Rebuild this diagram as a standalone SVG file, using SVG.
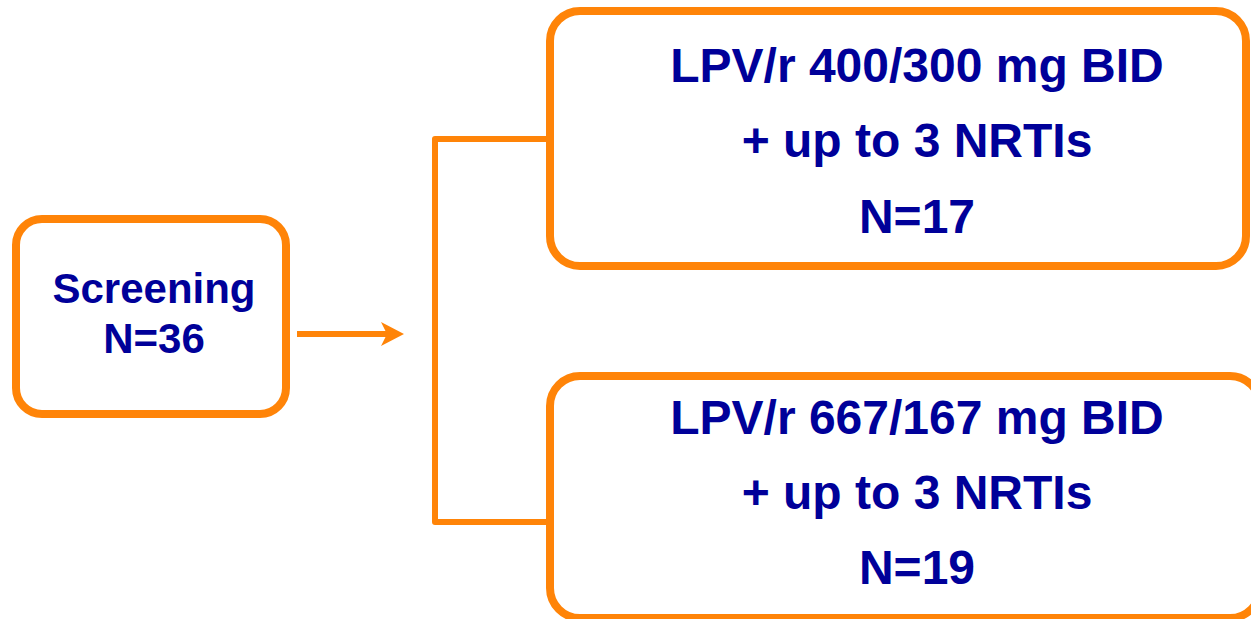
<svg xmlns="http://www.w3.org/2000/svg" width="1251" height="619" viewBox="0 0 1251 619">
  <defs>
    <style>
      .box { fill: #ffffff; stroke: #ff8408; stroke-width: 8; }
      .wire { fill: none; stroke: #ff8408; stroke-width: 6; stroke-linejoin: round; stroke-linecap: butt; }
      .label { font-family: "Liberation Sans", Arial, sans-serif; font-weight: bold; fill: #000099; text-anchor: middle; }
      .big { font-size: 48px; }
      .small { font-size: 42px; }
    </style>
    <!-- arrowhead sized in user units: 23 long, 24 wide, tip lands 9px past the line end -->
    <marker id="head" viewBox="0 0 24 24" refX="14" refY="12" markerWidth="24" markerHeight="24" orient="auto" markerUnits="userSpaceOnUse">
      <path d="M0,0 L23,12 L0,24 L6,12 Z" fill="#ff8408"/>
    </marker>
  </defs>

  <g id="connectors">
    <line class="wire" x1="297" y1="334" x2="395" y2="334" marker-end="url(#head)"/>
    <path class="wire" d="M546,139 H435 V522 H546"/>
  </g>

  <g id="screening">
    <rect class="box" x="16" y="219" width="270" height="195" rx="26"/>
    <text class="label small" x="154" y="303">Screening</text>
    <text class="label small" x="154" y="353">N=36</text>
  </g>

  <g id="arm-400">
    <rect class="box" x="550" y="11" width="696" height="255" rx="30"/>
    <text class="label big" x="917" y="82">LPV/r 400/300 mg BID</text>
    <text class="label big" x="917" y="157">+ up to 3 NRTIs</text>
    <text class="label big" x="917" y="233">N=17</text>
  </g>

  <g id="arm-667">
    <rect class="box" x="550" y="376" width="710" height="242" rx="30"/>
    <text class="label big" x="917" y="434">LPV/r 667/167 mg BID</text>
    <text class="label big" x="917" y="509">+ up to 3 NRTIs</text>
    <text class="label big" x="917" y="584">N=19</text>
  </g>
</svg>
